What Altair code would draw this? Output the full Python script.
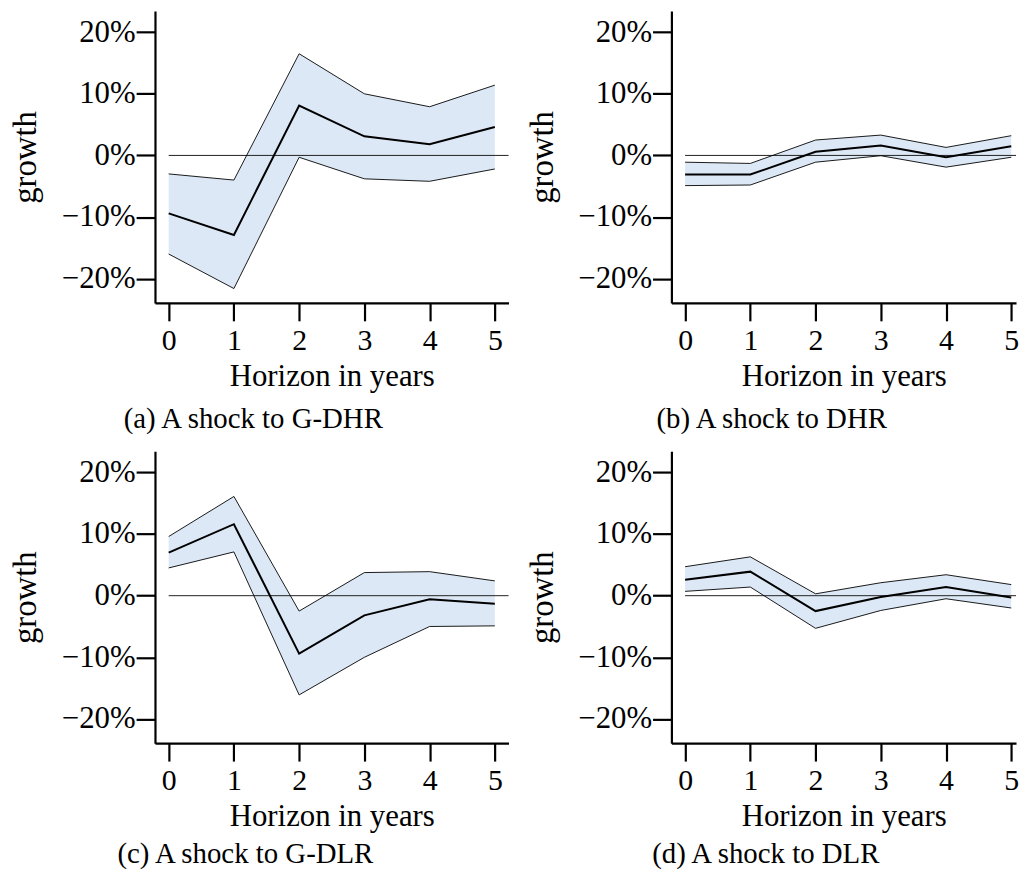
import altair as alt
import pandas as pd

HORIZON = [0, 1, 2, 3, 4, 5]

A_UP = [-3.0, -4.0, 16.5, 10.0, 7.9, 11.4]
A_MID = [-9.4, -12.9, 8.1, 3.1, 1.8, 4.6]
A_LO = [-16.0, -21.6, -0.3, -3.8, -4.2, -2.2]

B_UP = [-1.1, -1.3, 2.5, 3.3, 1.3, 3.2]
B_MID = [-3.1, -3.1, 0.6, 1.6, -0.3, 1.5]
B_LO = [-4.9, -4.8, -1.1, -0.05, -1.9, -0.3]

C_UP = [9.6, 16.1, -2.5, 3.75, 3.9, 2.4]
C_MID = [7.0, 11.6, -9.4, -3.2, -0.6, -1.3]
C_LO = [4.5, 7.1, -16.1, -10.0, -5.0, -4.9]

D_UP = [4.7, 6.3, 0.3, 2.1, 3.4, 1.8]
D_MID = [2.6, 3.9, -2.5, -0.2, 1.4, -0.3]
D_LO = [0.7, 1.4, -5.3, -2.4, -0.5, -2.0]

Y_TICKS = [-20, -10, 0, 10, 20]
ZERO = [0]
CAPTIONS = ["(a) A shock to G-DHR", "(b) A shock to DHR",
            "(c) A shock to G-DLR", "(d) A shock to DLR"]

FONT = "Liberation Serif"
FILL = "#dce8f5"
PX_PER_YEAR = 65.68
PLOT_H = 294
# left column shows the full x range; right column is cut at the page edge
LEFT_W = 356
RIGHT_W = 347

xaxis = alt.Axis(values=HORIZON, format="d", grid=False,
                 tickSize=18, tickWidth=2.2, tickColor="black",
                 domainWidth=2.2, domainColor="black",
                 labelFont=FONT, labelFontSize=30, labelColor="black",
                 labelPadding=5, labelFlush=False, labelOverlap=False,
                 titleFont=FONT, titleFontSize=31, titleFontWeight="normal",
                 titleColor="black", titleY=83, titleBaseline="alphabetic")
yaxis = alt.Axis(values=[v / 100 for v in Y_TICKS], format=".0%", grid=False,
                 tickSize=19, tickWidth=2.2, tickColor="black",
                 domainWidth=2.2, domainColor="black",
                 labelFont=FONT, labelFontSize=31, labelColor="black",
                 labelPadding=1, labelFlush=False, labelOverlap=False,
                 titleFont=FONT, titleFontSize=33, titleFontWeight="normal",
                 titleColor="black", titleX=-120, titleBaseline="alphabetic")

yscale = alt.Scale(domain=[-0.2394, 0.2344], nice=False, zero=False)


def panel(up, mid, lo, caption, dx, offset, width):
    xscale = alt.Scale(domain=[-0.21, -0.21 + width / PX_PER_YEAR],
                       nice=False, zero=False)

    def X(field):
        return alt.X(field, type="quantitative", scale=xscale, axis=xaxis,
                     title="Horizon in years")

    def Y(field):
        return alt.Y(field, type="quantitative", scale=yscale, axis=yaxis,
                     title="growth")

    df = pd.DataFrame({"h": HORIZON,
                       "up": [v / 100 for v in up],
                       "mid": [v / 100 for v in mid],
                       "lo": [v / 100 for v in lo]})
    zdf = pd.DataFrame({"h": ZERO, "z": ZERO})
    base = alt.Chart(df)
    band = base.mark_area(color=FILL, opacity=1).encode(
        x=X("h"), y=Y("lo"), y2="up:Q")
    zero = alt.Chart(zdf).mark_rule(color="#222222", strokeWidth=1.0).encode(
        x=X("h"), x2=alt.value(width), y=Y("z"))
    up_line = base.mark_line(color="black", strokeWidth=0.9).encode(
        x=X("h"), y=Y("up"))
    lo_line = base.mark_line(color="black", strokeWidth=0.9).encode(
        x=X("h"), y=Y("lo"))
    mid_line = base.mark_line(color="black", strokeWidth=2.0).encode(
        x=X("h"), y=Y("mid"))
    return alt.layer(band, zero, up_line, lo_line, mid_line).properties(
        width=width, height=PLOT_H,
        title=alt.TitleParams(text=caption, orient="bottom", anchor="middle",
                              frame="group", dx=dx, offset=offset, font=FONT,
                              fontSize=29, fontWeight="normal", color="black"))


pa = panel(A_UP, A_MID, A_LO, CAPTIONS[0], -79, 14, LEFT_W)
pb = panel(B_UP, B_MID, B_LO, CAPTIONS[1], -77 + (LEFT_W - RIGHT_W) / 2, 14, RIGHT_W)
pc = panel(C_UP, C_MID, C_LO, CAPTIONS[2], -87, 9, LEFT_W)
pd_ = panel(D_UP, D_MID, D_LO, CAPTIONS[3], -83 + (LEFT_W - RIGHT_W) / 2, 9, RIGHT_W)

chart = alt.concat(pa, pb, pc, pd_, columns=2,
                   spacing={"row": 149.3, "column": 164},
                   bounds="flush").configure_view(stroke=None).properties(
    padding={"left": 2, "top": 0, "right": 0, "bottom": 0},
    background="white")

chart.save("out.html", embed_options={"renderer": "svg", "actions": False})
